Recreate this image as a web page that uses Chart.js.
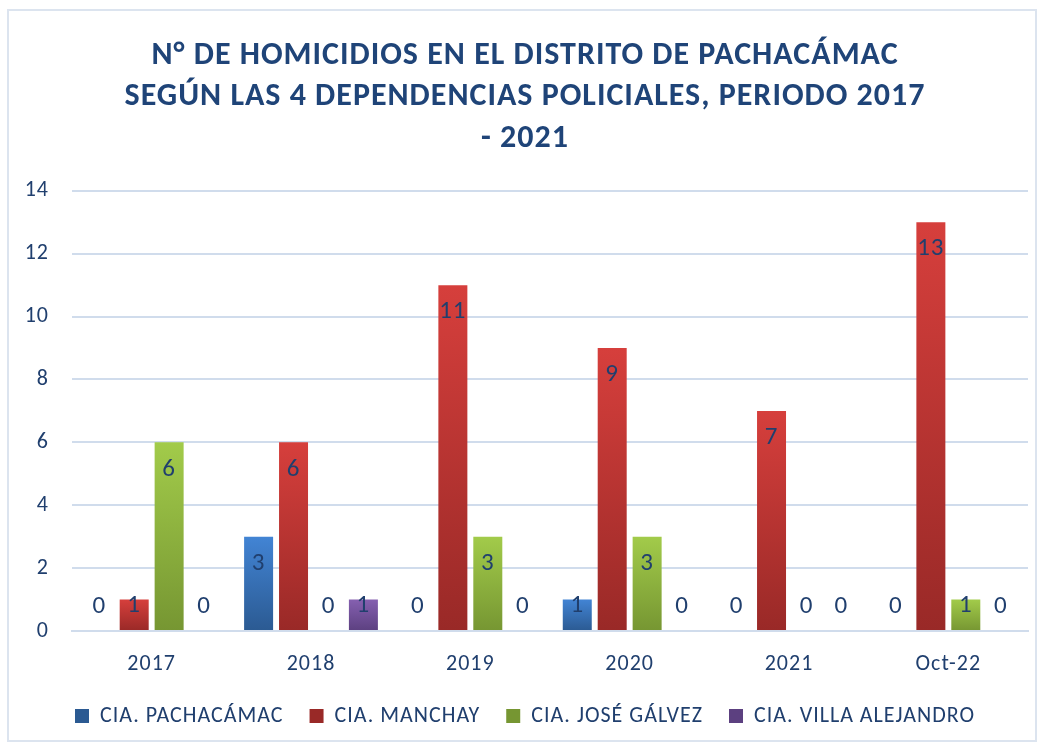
<!DOCTYPE html>
<html>
<head>
<meta charset="utf-8">
<script src="https://cdn.jsdelivr.net/npm/chart.js@4.4.0/dist/chart.umd.min.js"></script>
<style>
  html, body { margin: 0; padding: 0; background: #fff; }
  #wrap { position: absolute; left: 7px; top: 9px; width: 1030px; height: 733px; border: 2px solid #dce4ef; box-sizing: border-box; }
  #frame { position: absolute; left: 0; top: 0; width: 1044px; height: 747px; }
</style>
</head>
<body>
<div id="wrap"></div>
<div id="frame"><canvas id="homicidios" width="1044" height="747"></canvas></div>
<script>
const years = ['2017', '2018', '2019', '2020', '2021', 'Oct-22'];
const pachacamac = [0, 3, 0, 1, 0, 0];
const manchay = [1, 6, 11, 9, 7, 13];
const joseGalvez = [6, 0, 3, 3, 0, 1];
const villaAlejandro = [0, 1, 0, 0, 0, 0];

const textColor = '#203f6e';
const fontFamily = "Carlito, Calibri, Lato, sans-serif";

// light at the top of each bar, dark at its base
function barFill(light, dark) {
    return (ctx) => {
        const chart = ctx.chart;
        if (ctx.type !== 'data' || !chart.chartArea) return dark;
        const yScale = chart.scales.y;
        const top = yScale.getPixelForValue(ctx.raw);
        const base = yScale.getPixelForValue(0);
        if (base - top < 1) return dark;
        const g = chart.ctx.createLinearGradient(0, top, 0, base);
        g.addColorStop(0, light);
        g.addColorStop(1, dark);
        return g;
    };
}

// the original text is a bit spread out, so add some letter spacing
const spacing = {
    id: 'spacing',
    beforeLayout(chart) { chart.ctx.letterSpacing = '1px'; },
    beforeDraw(chart) { chart.ctx.letterSpacing = '1px'; }
};

// value labels, drawn near the top inside each bar (zeros sit just above the axis)
const valueLabels = {
    id: 'valueLabels',
    afterDatasetsDraw(chart) {
        const ctx = chart.ctx;
        ctx.save();
        ctx.font = '25px ' + fontFamily;
        ctx.fillStyle = textColor;
        ctx.textAlign = 'center';
        ctx.textBaseline = 'middle';
        chart.data.datasets.forEach((ds, i) => {
            chart.getDatasetMeta(i).data.forEach((bar, j) => {
                const y = Math.min(bar.y + 27, bar.base - 24);
                ctx.fillText(String(ds.data[j]), bar.x, y);
            });
        });
        ctx.restore();
    }
};

new Chart(document.getElementById('homicidios').getContext('2d'), {
    type: 'bar',
    data: {
        labels: years,
        datasets: [
            { label: 'CIA. PACHACÁMAC', data: pachacamac, backgroundColor: barFill('#4284d4', '#2b5a92') },
            { label: 'CIA. MANCHAY', data: manchay, backgroundColor: barFill('#d63f3c', '#992927') },
            { label: 'CIA. JOSÉ GÁLVEZ', data: joseGalvez, backgroundColor: barFill('#a2cb4a', '#769632') },
            { label: 'CIA. VILLA ALEJANDRO', data: villaAlejandro, backgroundColor: barFill('#8560b0', '#5c4080') }
        ]
    },
    options: {
        responsive: false,
        animation: false,
        datasets: { bar: { barPercentage: 0.83, categoryPercentage: 0.877 } },
        layout: { padding: { left: 22, right: 16, top: 23, bottom: 10 } },
        plugins: {
            title: {
                display: true,
                text: ['N° DE HOMICIDIOS EN EL DISTRITO DE PACHACÁMAC',
                       'SEGÚN LAS 4 DEPENDENCIAS POLICIALES, PERIODO 2017',
                       '- 2021'],
                color: '#1f4478',
                font: { family: fontFamily, size: 32, weight: 'bold', lineHeight: 1.3 },
                padding: { top: 12, bottom: 31 }
            },
            legend: {
                position: 'bottom',
                maxHeight: 58,
                labels: {
                    color: textColor,
                    font: { family: fontFamily, size: 22 },
                    boxWidth: 14,
                    boxHeight: 14,
                    padding: 26
                }
            },
            tooltip: { enabled: false }
        },
        scales: {
            x: {
                afterFit(scale) { scale.height = 48; },
                grid: { display: false },
                border: { color: '#d0dcec', width: 2 },
                ticks: { color: textColor, font: { family: fontFamily, size: 22 }, padding: 12 }
            },
            y: {
                min: 0,
                max: 14,
                afterFit(scale) { scale.width = 50; },
                grid: { color: '#d0dcec', lineWidth: 2, drawTicks: false },
                border: { display: false },
                ticks: { stepSize: 2, color: textColor, font: { family: fontFamily, size: 22 }, padding: 23 }
            }
        }
    },
    plugins: [spacing, valueLabels]
});
</script>
</body>
</html>
